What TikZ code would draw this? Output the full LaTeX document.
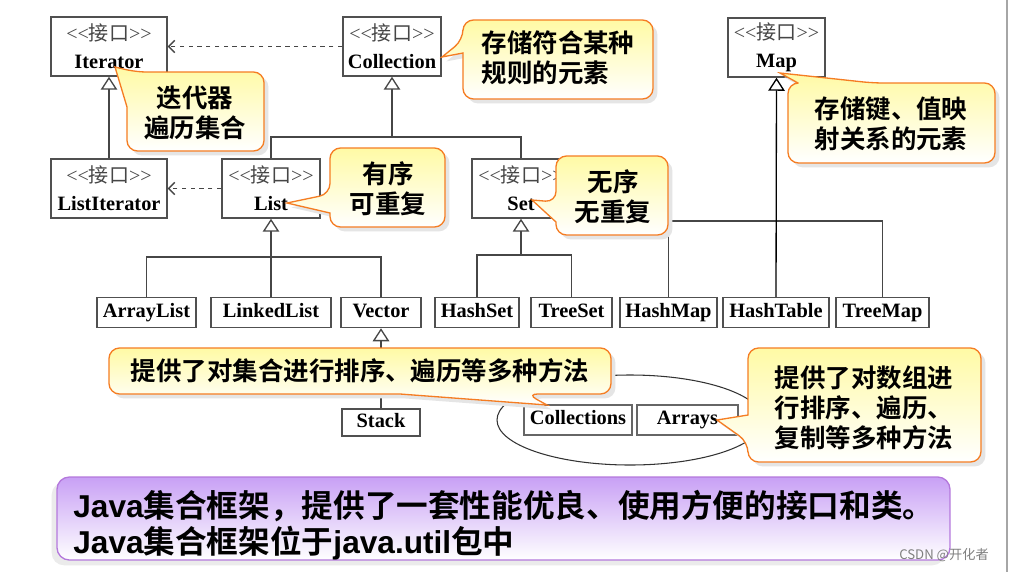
\documentclass[tikz,border=0pt]{standalone}
\usepackage{fontspec}
\setmainfont{Liberation Serif}
\newfontfamily\cjk{Noto Sans CJK SC}[BoldFont={Noto Sans CJK SC Bold}]
\newfontfamily\stereo{Liberation Serif}
\newfontfamily\arialb{Liberation Sans}
\usepackage{xcolor}
\usepackage{tikz}
\usetikzlibrary{arrows.meta,calc,positioning,shadows}
\definecolor{boxgray}{RGB}{80,80,80}
\definecolor{linegray}{RGB}{70,70,70}
\definecolor{taggray}{RGB}{70,70,70}
\definecolor{noteorange}{RGB}{245,125,35}
\definecolor{noteyellow}{RGB}{255,250,165}
\definecolor{purpletop}{RGB}{200,160,245}
\definecolor{purpleedge}{RGB}{180,120,220}
\tikzset{iface/.style={draw=boxgray,line width=0.85pt,fill=white,align=center,inner sep=0pt,
           minimum height=1.18cm,font=\fontsize{11.6}{16}\selectfont\bfseries},
         cls/.style={draw=boxgray,line width=0.85pt,fill=white,inner sep=0pt,
           minimum height=0.6cm,text height=8pt,text depth=2.6pt,font=\fontsize{11.6}{13}\selectfont\bfseries},
         link/.style={draw=linegray,line width=0.75pt},
         inh/.style={link,-{Triangle[open,length=7.4pt,width=9.4pt]}},
         dep/.style={link,dash pattern=on 2.5pt off 2.5pt,-{Straight Barb[length=3.5pt,width=7pt]}},
         note/.style={draw=noteorange,line width=0.75pt,top color=noteyellow,bottom color=white,
           rounded corners=6pt,drop shadow={shadow xshift=2.5pt,shadow yshift=-2.5pt,fill=black!10,opacity=1}},
         notetxt/.style={align=center,inner sep=0pt,font={\cjk\bfseries\fontsize{14.5}{17}\selectfont}}}
\newcommand{\ifacetag}{{\color{taggray}\mdseries\stereo\fontsize{11.4}{16}\selectfont <<{\cjk 接口}>>}}
\newcommand{\lat}[1]{{\arialb\bfseries #1}}

\begin{document}
\begin{tikzpicture}[x=0.02cm,y=-0.02cm]
\useasboundingbox (0,0) rectangle (1010,572);
\fill[white] (0,0) rectangle (1010,572);
\draw[gray!70,line width=0.8pt] (1007,0) -- (1007,572);
% utility classes, grouped by the ellipse
\coordinate (utilMid) at (630,420);
\draw[black!80,line width=0.6pt] (utilMid) ellipse [x radius=133,y radius=45];
\node[cls,minimum width=2.16cm,draw=black!60,line width=0.6pt] (Collections) at (578,420) {Collections};
\node[cls,minimum width=2.02cm,draw=black!60,line width=0.6pt] (Arrays) at (687.5,420) {Arrays};
% interfaces
\node[iface,minimum width=2.32cm] (Iterator) at (109,46.5) {\ifacetag\\Iterator};
\node[iface,minimum width=1.96cm] (Collection) at (392,46.5) {\ifacetag\\Collection};
\node[iface,minimum width=1.94cm] (Map) at (776.5,47.5) {\ifacetag\\Map};
\node[iface,minimum width=2.32cm] (ListIterator) at (109,188.5) {\ifacetag\\ListIterator};
\node[iface,minimum width=1.96cm] (List) at (271,188.5) {\ifacetag\\List};
\node[iface,minimum width=1.96cm] (Set) at (521,188.5) {\ifacetag\\Set};
% implementations
\node[cls,minimum width=1.98cm] (ArrayList) at (146.5,312.5) {ArrayList};
\node[cls,minimum width=2.4cm] (LinkedList) at (271,312.5) {LinkedList};
\node[cls,minimum width=1.6cm] (Vector) at (381,312.5) {Vector};
\node[cls,minimum width=1.68cm] (HashSet) at (477,312.5) {HashSet};
\node[cls,minimum width=1.62cm] (TreeSet) at (571.5,312.5) {TreeSet};
\node[cls,minimum width=1.94cm] (HashMap) at (668.5,312.5) {HashMap};
\node[cls,minimum width=2.12cm] (HashTable) at (776,312.5) {HashTable};
\node[cls,minimum width=1.86cm] (TreeMap) at (882.5,312.5) {TreeMap};
\node[cls,minimum width=1.56cm,minimum height=0.54cm] (Stack) at (381,422.5) {Stack};
% dependencies and inheritance
\draw[dep] (Collection.west) -- (Iterator.east);
\draw[dep] (List.west) -- (ListIterator.east);
\draw[inh] (ListIterator.north) -- (Iterator.south);
\coordinate (cJoin) at (392,137);
\coordinate (lJoin) at (271,257);
\coordinate (sJoin) at (521,255);
\coordinate (mJoin) at (776,221);
\draw[link] (List.north) |- (cJoin) -| (Set.north);
\draw[inh] (cJoin) -- (Collection.south);
\draw[link] (ArrayList.north) |- (lJoin) -| (Vector.north);
\draw[inh] (LinkedList.north) -- (List.south);
\draw[link] (HashSet.north) |- (sJoin) -| (TreeSet.north);
\draw[inh] (sJoin) -- (Set.south);
\draw[link] (HashMap.north) |- (mJoin) -| (TreeMap.north);
\draw[inh,draw=black] (HashTable.north) -- (Map.south);
\draw[inh] (Stack.north) -- (Vector.south);
% callouts
\draw[note] (195,151) -- (264,151) -- (264,72) -- (136,72) [sharp corners] -- (115,67) -- (127,107)
  [rounded corners=6pt] -- (127,151) -- cycle;
\node[notetxt] (iterTxt) at (195,113) {迭代器\\遍历集合};
\draw[note] (558,99) -- (653,99) -- (653,20) -- (463,20) -- (463,40) [sharp corners] -- (442,57) -- (463,53)
  [rounded corners=6pt] -- (463,99) -- cycle;
\node[notetxt,align=left] (collTxt) at (558,58) {存储符合某种\\规则的元素};
\draw[note] (891,163) -- (995,163) -- (995,83) -- (873,83) [sharp corners] -- (780,73) -- (798,83)
  [rounded corners=6pt] -- (788,83) -- (788,163) -- cycle;
\node[notetxt] (mapTxt) at (891,124) {存储键、值映\\射关系的元素};
\draw[note] (388,227) -- (445,227) -- (445,148) -- (330,148) -- (330,194) [sharp corners] -- (287,203) -- (330,213)
  [rounded corners=6pt] -- (330,227) -- cycle;
\node[notetxt] (listTxt) at (388,189) {有序\\可重复};
\draw[note] (612,235) -- (668,235) -- (668,156) -- (556,156) -- (556,202) [sharp corners] -- (532,200) -- (556,222)
  [rounded corners=6pt] -- (556,235) -- cycle;
\node[notetxt] (setTxt) at (613,197) {无序\\无重复};
\draw[note] (360,348) -- (611,348) -- (611,394) -- (527,394) [sharp corners] -- (547,405) -- (400,394)
  [rounded corners=6pt] -- (109,394) -- (109,348) -- cycle;
\node[notetxt] (utilTxt) at (360,371) {提供了对集合进行排序、遍历等多种方法};
\draw[note] (864,348) -- (981,348) -- (981,462) -- (748,462) -- (748,442) [sharp corners] -- (717,420) -- (748,415)
  [rounded corners=6pt] -- (748,348) -- cycle;
\node[notetxt,align=left] (arrTxt) at (864,408) {提供了对数组进\\行排序、遍历、\\复制等多种方法};
% summary box
\draw[draw=purpleedge,line width=0.75pt,top color=purpletop,bottom color=white,rounded corners=7pt,
  drop shadow={shadow xshift=-3pt,shadow yshift=-3pt,fill=black!8,opacity=1}] (57,477) rectangle (950,560);
\node[anchor=west,align=left,inner sep=0pt,font={\cjk\bfseries\fontsize{18}{20.6}\selectfont}] (javaTxt) at (73,525)
  {\lat{Java}集合框架，提供了一套性能优良、使用方便的接口和类。\\\lat{Java}集合框架位于\lat{java.util}包中};
\node[font={\cjk\fontsize{7.5}{9}\selectfont},text=gray] (mark) at (944,555) {CSDN @开化者};
\end{tikzpicture}
\end{document}
